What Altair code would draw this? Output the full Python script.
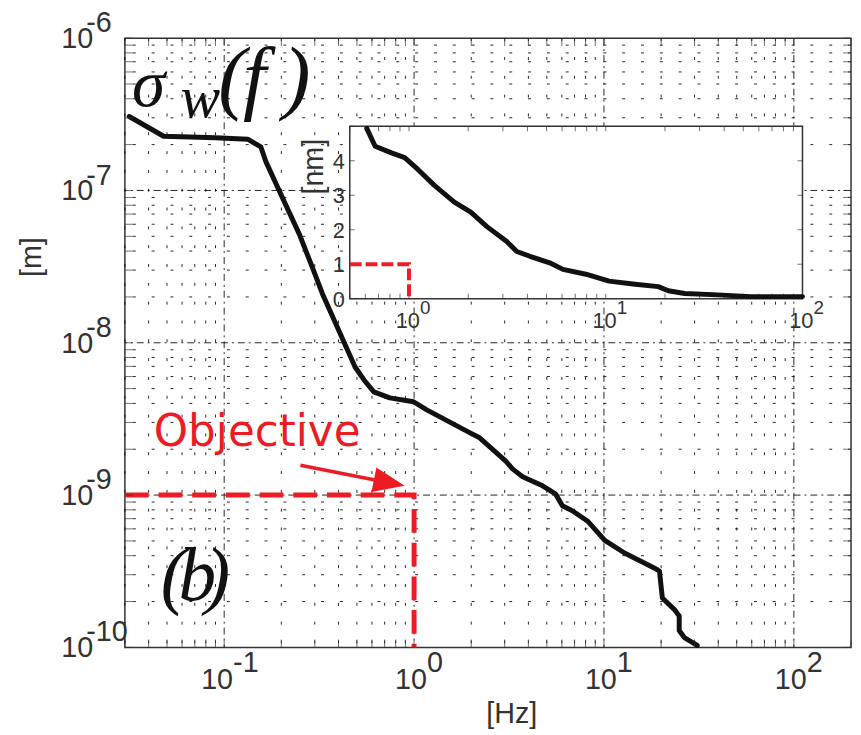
import altair as alt
import pandas as pd

# ---------------- data ----------------
freq_main = [0.0316, 0.048, 0.09, 0.133, 0.156, 0.166, 0.196, 0.249, 0.292, 0.329,
             0.408, 0.489, 0.545, 0.614, 0.745, 0.994, 1.16, 1.95, 2.20, 3.04,
             3.31, 3.73, 4.75, 5.55, 6.04, 6.81, 8.25, 10.1, 12.9, 18.5,
             19.6, 20.3, 23.5, 24.9, 24.9, 26.5, 31.0]
sigma_main = [3.06e-7, 2.27e-7, 2.22e-7, 2.17e-7, 1.93e-7, 1.54e-7, 9.8e-8, 5.15e-8, 3.10e-8, 2.10e-8,
              1.15e-8, 6.93e-9, 5.70e-9, 4.76e-9, 4.35e-9, 4.10e-9, 3.64e-9, 2.58e-9, 2.39e-9, 1.67e-9,
              1.48e-9, 1.32e-9, 1.15e-9, 1.02e-9, 8.5e-10, 7.9e-10, 6.7e-10, 5.04e-10, 4.15e-10, 3.31e-10,
              3.17e-10, 2.11e-10, 1.77e-10, 1.61e-10, 1.29e-10, 1.16e-10, 1.03e-10]

freq_inset = [0.61, 0.673, 0.815, 0.951, 1.11, 1.35, 1.70, 2.06, 2.49, 3.14, 3.53, 4.12,
              5.19, 6.06, 7.93, 10.4, 14.1, 18.5, 20.8, 25.2, 37.1, 54.6, 100]
sigma_inset_nm = [4.94, 4.42, 4.23, 4.09, 3.75, 3.28, 2.80, 2.51, 2.09, 1.66, 1.37, 1.23,
                  1.04, 0.85, 0.71, 0.51, 0.42, 0.35, 0.23, 0.15, 0.11, 0.06, 0.06]

objective_freq = 1.0
objective_sigma = 1e-9
objective_inset_nm = 1.0

x_domain = [0.03, 200]
y_domain = [1e-10, 1e-6]
inset_x_domain = [0.5, 100]
inset_y_domain = [0, 5]

x_decades = [-1, 0, 1, 2]
y_decades = [-10, -9, -8, -7, -6]
inset_x_decades = [0, 1, 2]
inset_y_ticks = [0, 1, 2, 3, 4]

# annotation anchors (data space)
arrow_start = (0.252, 1.57e-9)
arrow_shaft_end = (0.705, 1.22e-9)
arrow_tip = (0.892, 1.15e-9)
objective_anchor = (0.0426, 2.09e-9)

# ---------------- styles ----------------
FONT = "Liberation Sans"
SERIF = "Liberation Serif"
LABEL_COLOR = "#333333"
RED = "#ED1C24"
CURVE = "#111111"
FRAME = "#333333"

xs = alt.Scale(type="log", domain=x_domain, nice=False)
ys = alt.Scale(type="log", domain=y_domain, nice=False)
ixs = alt.Scale(type="log", domain=inset_x_domain, range=[227, 684], nice=False)
iys = alt.Scale(type="linear", domain=inset_y_domain, range=[263, 89], nice=False, zero=False)


def mX(field="f"):
    return alt.X(f"{field}:Q", scale=xs, axis=None)


def mY(field="v"):
    return alt.Y(f"{field}:Q", scale=ys, axis=None)


def iX(field="f"):
    return alt.X(f"{field}:Q", scale=ixs, axis=None)


def iY(field="v"):
    return alt.Y(f"{field}:Q", scale=iys, axis=None)


def rnd(v):
    return float(f"{v:.6g}")


x_all = sorted({rnd(m * 10.0 ** k) for k in range(-2, 3) for m in range(1, 10)
                if x_domain[0] - 1e-12 <= m * 10.0 ** k <= x_domain[1] + 1e-9})
x_major = [10.0 ** d for d in x_decades]
x_minor = [v for v in x_all if v not in [rnd(m) for m in x_major] and v < x_domain[1]]
y_all = sorted({rnd(m * 10.0 ** k) for k in range(-10, -6) for m in range(1, 10)} | {1e-6})
y_major = [rnd(10.0 ** d) for d in y_decades[1:-1]]
y_minor = [v for v in y_all if v not in y_major and y_domain[0] < v < y_domain[1]]

ix_all = sorted({rnd(m * 10.0 ** k) for k in range(-1, 3) for m in range(1, 10)
                 if inset_x_domain[0] <= m * 10.0 ** k <= inset_x_domain[1]})
iy_all = list(range(inset_y_domain[0], inset_y_domain[1] + 1))

# ---------------- main panel ----------------
layers = []
layers.append(alt.Chart(pd.DataFrame({"f": x_minor})).mark_rule(
    color="black", strokeWidth=1, strokeDash=[3, 16], opacity=0.85).encode(x=mX()))
layers.append(alt.Chart(pd.DataFrame({"f": x_major})).mark_rule(
    color="black", strokeWidth=1, strokeDash=[7, 4, 2, 4], opacity=0.85).encode(x=mX()))
layers.append(alt.Chart(pd.DataFrame({"v": y_minor})).mark_rule(
    color="black", strokeWidth=1, strokeDash=[3, 16], opacity=0.85).encode(y=mY()))
layers.append(alt.Chart(pd.DataFrame({"v": y_major})).mark_rule(
    color="black", strokeWidth=1, strokeDash=[7, 4, 2, 4], opacity=0.85).encode(y=mY()))

obj_df = pd.DataFrame({"f": [x_domain[0], objective_freq, objective_freq],
                       "v": [objective_sigma, objective_sigma, y_domain[0]],
                       "i": [0, 1, 2]})
layers.append(alt.Chart(obj_df).mark_line(color=RED, strokeWidth=5, strokeDash=[24, 10]).encode(
    x=mX(), y=mY(), order="i:Q"))

layers.append(alt.Chart(pd.DataFrame({"f": [arrow_start[0]], "v": [arrow_start[1]],
                                      "f2": [arrow_shaft_end[0]], "v2": [arrow_shaft_end[1]]}))
              .mark_rule(color=RED, strokeWidth=3.5)
              .encode(x=mX(), y=mY(), x2="f2:Q", y2="v2:Q"))
layers.append(alt.Chart(pd.DataFrame({"f": [arrow_tip[0]], "v": [arrow_tip[1]]}))
              .mark_point(shape="M 0 0 L -2 -0.8 L -2 0.8 Z", filled=True, size=1000,
                          angle=11.3, color=RED, opacity=1, strokeWidth=0)
              .encode(x=mX(), y=mY()))

main_df = pd.DataFrame({"f": freq_main, "v": sigma_main, "i": list(range(len(freq_main)))})
layers.append(alt.Chart(main_df).mark_line(color=CURVE, strokeWidth=5, strokeJoin="round",
                                           strokeCap="round").encode(x=mX(), y=mY(), order="i:Q"))

# annotations
layers.append(alt.Chart(pd.DataFrame({"f": [objective_anchor[0]], "v": [objective_anchor[1]], "t": ["Objective"]}))
              .mark_text(align="left", baseline="alphabetic", font="DejaVu Sans", fontSize=44, color=RED)
              .encode(x=mX(), y=mY(), text="t:N"))


def glyph(f, v, t, size, align="left"):
    return (alt.Chart(pd.DataFrame({"f": [f], "v": [v], "t": [t]}))
            .mark_text(align=align, baseline="alphabetic", font=SERIF, fontStyle="italic",
                       fontSize=size, color="#111111")
            .encode(x=mX(), y=mY(), text="t:N"))


layers.append(glyph(0.0327, 3.61e-7, "σ", 68))
layers.append(glyph(0.0589, 3.02e-7, "w", 60))
layers.append(glyph(0.0930, 3.72e-7, "(", 84))
layers.append(glyph(0.1257, 3.72e-7, "f", 84))
layers.append(glyph(0.2846, 3.72e-7, ")", 84, align="right"))
layers.append(glyph(0.0463, 2.05e-10, "(", 76))
layers.append(glyph(0.0575, 2.05e-10, "b", 76))
layers.append(glyph(0.1075, 2.05e-10, ")", 76, align="right"))

# ticks (inside)
tick_x = pd.DataFrame({"f": x_all})
tick_y = pd.DataFrame({"v": y_all})
layers.append(alt.Chart(tick_x).mark_tick(orient="vertical", size=8, thickness=1, color=FRAME, yOffset=-4)
              .encode(x=mX(), y=alt.YDatum(y_domain[0], scale=ys, axis=None, type="quantitative")))
layers.append(alt.Chart(tick_x).mark_tick(orient="vertical", size=8, thickness=1, color=FRAME, yOffset=4)
              .encode(x=mX(), y=alt.YDatum(y_domain[1], scale=ys, axis=None, type="quantitative")))
layers.append(alt.Chart(tick_y).mark_tick(orient="horizontal", size=8, thickness=1, color=FRAME, xOffset=4)
              .encode(y=mY(), x=alt.XDatum(x_domain[0], scale=xs, axis=None, type="quantitative")))
layers.append(alt.Chart(tick_y).mark_tick(orient="horizontal", size=8, thickness=1, color=FRAME, xOffset=-4)
              .encode(y=mY(), x=alt.XDatum(x_domain[1], scale=xs, axis=None, type="quantitative")))

# tick labels (10 with exponent)
for d in x_decades:
    c = 9 if d < 0 else 13
    df = pd.DataFrame({"f": [10.0 ** d], "t": ["10"], "e": [str(d)]})
    ydat = alt.YDatum(y_domain[0], scale=ys, axis=None, type="quantitative")
    layers.append(alt.Chart(df).mark_text(align="right", baseline="alphabetic", dx=c, dy=42, fontSize=29,
                                          font=FONT, color=LABEL_COLOR).encode(x=mX(), y=ydat, text="t:N"))
    layers.append(alt.Chart(df).mark_text(align="left", baseline="alphabetic", dx=c, dy=25, fontSize=29,
                                          font=FONT, color=LABEL_COLOR).encode(x=mX(), y=ydat, text="e:N"))
for d in y_decades:
    df = pd.DataFrame({"v": [10.0 ** d], "t": ["10"], "e": [str(d)]})
    xdat = alt.XDatum(x_domain[0], scale=xs, axis=None, type="quantitative")
    layers.append(alt.Chart(df).mark_text(align="right", baseline="alphabetic", dx=-32, dy=10, fontSize=29,
                                          font=FONT, color=LABEL_COLOR).encode(x=xdat, y=mY(), text="t:N"))
    layers.append(alt.Chart(df).mark_text(align="left", baseline="alphabetic", dx=-39, dy=-6, fontSize=29,
                                          font=FONT, color=LABEL_COLOR).encode(x=xdat, y=mY(), text="e:N"))

# axis titles
layers.append(alt.Chart(pd.DataFrame({"f": [3.27], "t": ["[Hz]"]}))
              .mark_text(align="center", baseline="alphabetic", dy=76, fontSize=29, font=FONT, color=LABEL_COLOR)
              .encode(x=mX(), y=alt.YDatum(y_domain[0], scale=ys, axis=None, type="quantitative"), text="t:N"))
layers.append(alt.Chart(pd.DataFrame({"f": [0.0108], "v": [3.65e-8], "t": ["[m]"]}))
              .mark_text(align="center", baseline="alphabetic", angle=270, fontSize=29, font=FONT, color=LABEL_COLOR)
              .encode(x=mX(), y=mY(), text="t:N"))

main = alt.layer(*layers)

# ---------------- inset ----------------
ilayers = []
ilayers.append(alt.Chart(pd.DataFrame({"f": [inset_x_domain[0]], "f2": [inset_x_domain[1]],
                                       "v": [inset_y_domain[0]], "v2": [inset_y_domain[1]]}))
               .mark_rect(fill="white", stroke=FRAME, strokeWidth=1.5)
               .encode(x=iX(), x2="f2:Q", y=iY(), y2="v2:Q"))
itx = pd.DataFrame({"f": ix_all})
ity = pd.DataFrame({"v": iy_all})
ilayers.append(alt.Chart(itx).mark_tick(orient="vertical", size=5, thickness=1, color=FRAME, yOffset=-2.5)
               .encode(x=iX(), y=alt.YDatum(inset_y_domain[0], scale=iys, axis=None, type="quantitative")))
ilayers.append(alt.Chart(itx).mark_tick(orient="vertical", size=5, thickness=1, color=FRAME, yOffset=2.5)
               .encode(x=iX(), y=alt.YDatum(inset_y_domain[1], scale=iys, axis=None, type="quantitative")))
ilayers.append(alt.Chart(ity).mark_tick(orient="horizontal", size=5, thickness=1, color=FRAME, xOffset=2.5)
               .encode(y=iY(), x=alt.XDatum(inset_x_domain[0], scale=ixs, axis=None, type="quantitative")))
ilayers.append(alt.Chart(ity).mark_tick(orient="horizontal", size=5, thickness=1, color=FRAME, xOffset=-2.5)
               .encode(y=iY(), x=alt.XDatum(inset_x_domain[1], scale=ixs, axis=None, type="quantitative")))

iobj = pd.DataFrame({"f": [inset_x_domain[0], objective_freq, objective_freq],
                     "v": [objective_inset_nm, objective_inset_nm, inset_y_domain[0]],
                     "i": [0, 1, 2]})
ilayers.append(alt.Chart(iobj).mark_line(color=RED, strokeWidth=4, strokeDash=[12, 4]).encode(
    x=iX(), y=iY(), order="i:Q"))

inset_df = pd.DataFrame({"f": freq_inset, "v": sigma_inset_nm, "i": list(range(len(freq_inset)))})
ilayers.append(alt.Chart(inset_df).mark_line(color=CURVE, strokeWidth=5, strokeJoin="round",
                                             strokeCap="round").encode(x=iX(), y=iY(), order="i:Q"))

for d in inset_x_decades:
    df = pd.DataFrame({"f": [10.0 ** d], "t": ["10"], "e": [str(d)]})
    ydat = alt.YDatum(inset_y_domain[0], scale=iys, axis=None, type="quantitative")
    ilayers.append(alt.Chart(df).mark_text(align="right", baseline="alphabetic", dx=11, dy=30, fontSize=22,
                                           font=FONT, color=LABEL_COLOR).encode(x=iX(), y=ydat, text="t:N"))
    ilayers.append(alt.Chart(df).mark_text(align="left", baseline="alphabetic", dx=11, dy=15, fontSize=19,
                                           font=FONT, color=LABEL_COLOR).encode(x=iX(), y=ydat, text="e:N"))
ilayers.append(alt.Chart(pd.DataFrame({"v": inset_y_ticks, "t": [str(v) for v in inset_y_ticks]}))
               .mark_text(align="right", baseline="middle", dx=-5, dy=1, fontSize=22, font=FONT, color=LABEL_COLOR)
               .encode(x=alt.XDatum(inset_x_domain[0], scale=ixs, axis=None, type="quantitative"), y=iY(), text="t:N"))
ilayers.append(alt.Chart(pd.DataFrame({"f": [0.365], "v": [3.83], "t": ["[nm]"]}))
               .mark_text(align="center", baseline="alphabetic", angle=270, fontSize=29, font=FONT, color=LABEL_COLOR)
               .encode(x=iX(), y=iY(), text="t:N"))

inset = alt.layer(*ilayers)

chart = (alt.layer(main, inset)
         .resolve_scale(x="independent", y="independent")
         .properties(width=733, height=615,
                     autosize=alt.AutoSizeParams(type="none"),
                     padding={"left": 118, "top": 27, "right": 2, "bottom": 85},
                     background="white")
         .configure_view(stroke=FRAME, strokeWidth=1.5))

chart.save("out.html", embed_options={"renderer": "svg", "actions": False})
